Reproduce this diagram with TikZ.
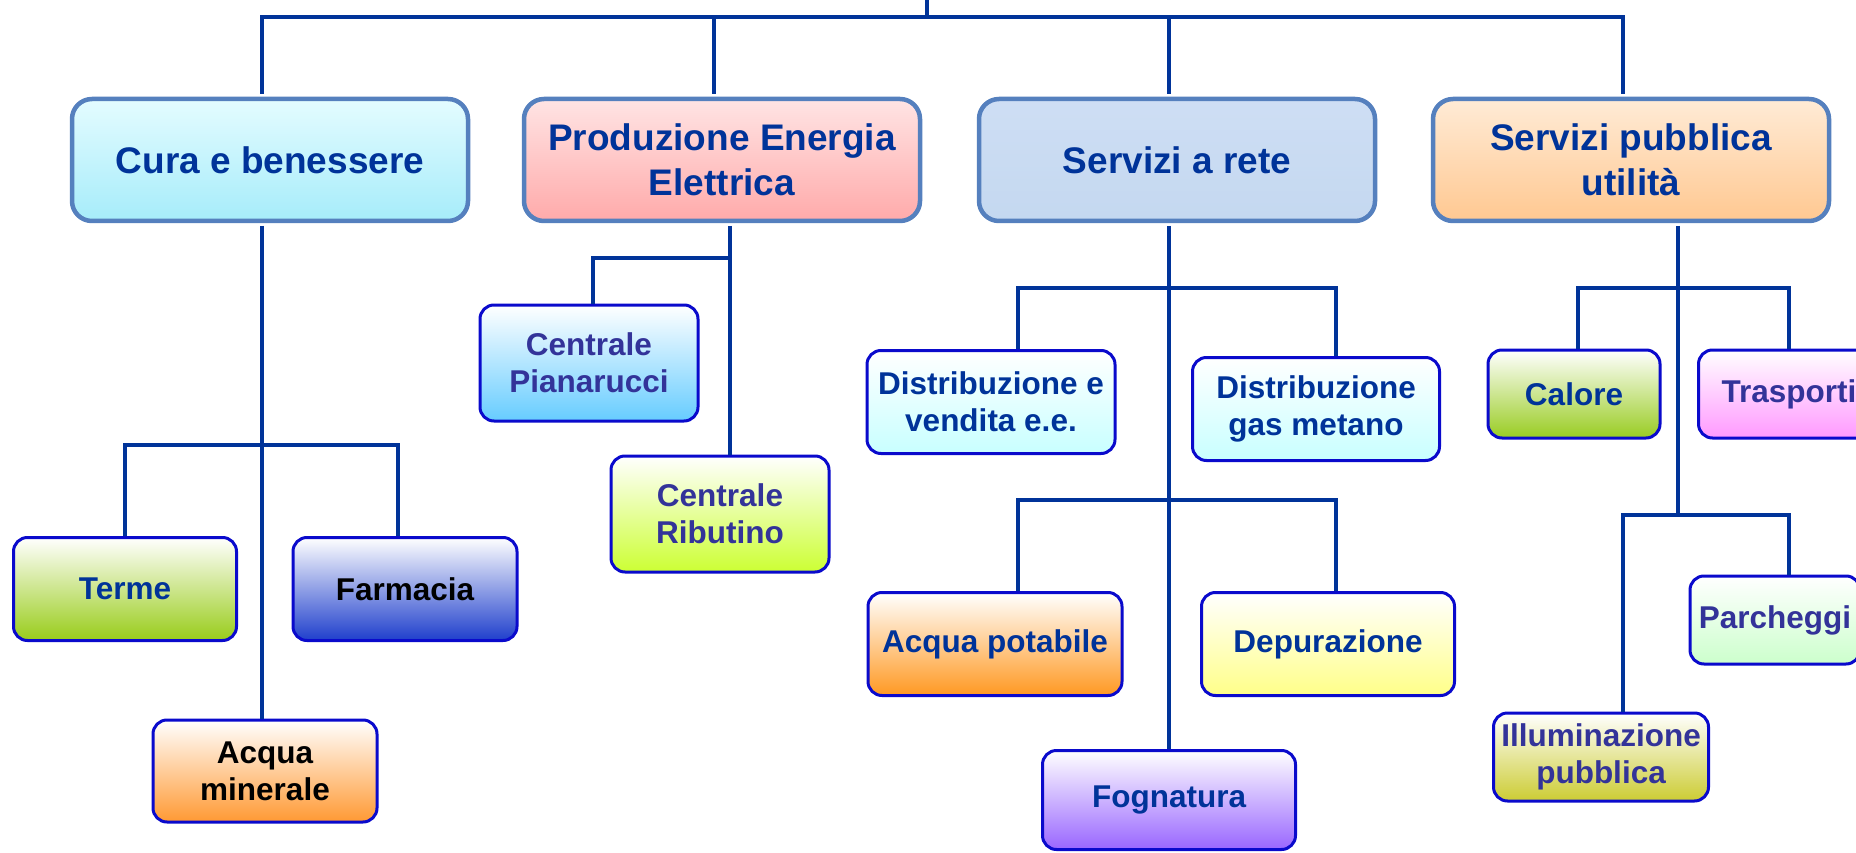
\documentclass[tikz,border=0pt]{standalone}
\usepackage{fontspec}
\setmainfont{Liberation Sans}
\usepackage{xcolor}
\usepackage{tikz}
\usetikzlibrary{positioning}
\definecolor{linkblue}{RGB}{0,51,153}
\definecolor{framesteel}{RGB}{85,128,190}
\definecolor{framesub}{RGB}{10,10,204}
\definecolor{textblue}{RGB}{0,51,153}
\definecolor{textviolet}{RGB}{51,51,153}
\definecolor{curatop}{RGB}{228,252,255}
\definecolor{curabot}{RGB}{166,236,250}
\definecolor{energiatop}{RGB}{255,228,228}
\definecolor{energiabot}{RGB}{255,170,170}
\definecolor{retetop}{RGB}{206,222,244}
\definecolor{retebot}{RGB}{196,216,240}
\definecolor{utiltop}{RGB}{255,235,214}
\definecolor{utilbot}{RGB}{255,200,145}
\definecolor{termegreen}{RGB}{153,204,26}
\definecolor{farmablue}{RGB}{31,63,204}
\definecolor{mineralorange}{RGB}{255,153,51}
\definecolor{pianablue}{RGB}{102,204,255}
\definecolor{ribulime}{RGB}{204,255,51}
\definecolor{venditacyan}{RGB}{200,255,255}
\definecolor{potabileorange}{RGB}{255,153,34}
\definecolor{depurayellow}{RGB}{255,255,136}
\definecolor{fognaviolet}{RGB}{153,102,255}
\definecolor{calgreen}{RGB}{153,204,34}
\definecolor{traspink}{RGB}{255,153,255}
\definecolor{parcgreen}{RGB}{204,255,204}
\definecolor{illumolive}{RGB}{204,204,51}
\tikzstyle{mainbox} = [draw=framesteel, line width=4.5pt, rounded corners=20pt,
  minimum width=396pt, minimum height=122pt, align=center, outer sep=5pt,
  text=textblue, font={\bfseries\fontsize{37pt}{45pt}\selectfont}]
\tikzstyle{subbox} = [draw=framesub, line width=3pt, rounded corners=14pt,
  minimum width=250pt, minimum height=103pt, align=center, inner sep=2pt,
  text=textblue, font={\bfseries\fontsize{31.5pt}{37pt}\selectfont}]
\tikzstyle{link} = [draw=linkblue, line width=4.5pt]
\tikzset{grad/.style={top color=white, bottom color=#1}}

\begin{document}
\begin{tikzpicture}[x=1pt, y=-1pt]
\clip (0, 0) rectangle (1856, 853);
\fill[white] (0, 0) rectangle (1856, 853);

%% main level
\node[mainbox, top color=curatop, bottom color=curabot] (cura) at (270, 160) {Cura e benessere};
\node[mainbox, top color=energiatop, bottom color=energiabot] (energia) at (722, 160) {Produzione Energia\\Elettrica};
\node[mainbox, top color=retetop, bottom color=retebot] (rete) at (1177, 160) {Servizi a rete};
\node[mainbox, top color=utiltop, bottom color=utilbot] (utilita) at (1631, 160) {Servizi pubblica\\utilità};

\coordinate (root) at (927, 0);
\coordinate (topbar) at (927, 17);
\draw[link] (root) -- (topbar);
\draw[link] ([xshift=-8pt]cura.north) |- (topbar) -| ([xshift=-8pt]utilita.north);
\draw[link] ([xshift=-8pt]energia.north) |- (topbar);
\draw[link] ([xshift=-8pt]rete.north) |- (topbar);

%% Cura e benessere
\node[subbox, grad=termegreen, minimum width=223pt] (terme) at (125, 589) {Terme};
\node[subbox, grad=farmablue, text=black, minimum width=224pt] (farmacia) at (405, 589) {Farmacia};
\node[subbox, grad=mineralorange, text=black, minimum width=224pt, minimum height=102pt] (acquamin) at (265, 771) {Acqua\\minerale};
\coordinate (curaj) at (262, 445);
\draw[link] (curaj |- cura.south) -- (curaj |- acquamin.north);
\draw[link] (terme.north) |- (curaj) -| ([xshift=-7pt]farmacia.north);

%% Produzione Energia Elettrica
\node[subbox, grad=pianablue, text=textviolet, minimum width=218pt, minimum height=116pt] (piana) at (589, 363) {Centrale\\Pianarucci};
\node[subbox, grad=ribulime, text=textviolet, minimum width=218pt, minimum height=116pt] (ribu) at (720, 514) {Centrale\\Ributino};
\coordinate (energiaj) at (730, 258);
\draw[link] (energiaj |- energia.south) -- (energiaj |- ribu.north);
\draw[link] ([xshift=4pt]piana.north) |- (energiaj);

%% Servizi a rete
\node[subbox, grad=venditacyan, minimum width=248pt] (vendita) at (991, 402) {Distribuzione e\\vendita e.e.};
\node[subbox, grad=venditacyan, minimum width=247pt] (gas) at (1316, 409) {Distribuzione\\gas metano};
\node[subbox, grad=potabileorange, minimum width=254pt] (potabile) at (995, 644) {Acqua potabile};
\node[subbox, grad=depurayellow, minimum width=253pt] (depura) at (1328, 644) {Depurazione};
\node[subbox, grad=fognaviolet, minimum width=253pt, minimum height=99pt] (fogna) at (1169, 800) {Fognatura};
\coordinate (retej) at (1169, 288);
\coordinate (retel) at (1018, 288);
\coordinate (reter) at (1336, 288);
\coordinate (retebl) at (1018, 500);
\coordinate (retebr) at (1336, 500);
\draw[link] (retej |- rete.south) -- (fogna.north);
\draw[link] (retel |- vendita.north) -- (retel) -- (reter) -- (reter |- gas.north);
\draw[link] (retebl |- potabile.north) -- (retebl) -- (retebr) -- (retebr |- depura.north);

%% Servizi pubblica utilita
\node[subbox, grad=calgreen, minimum width=172pt, minimum height=88pt] (calore) at (1574, 394) {Calore};
\node[subbox, grad=traspink, text=textviolet, minimum width=181pt, minimum height=88pt] (trasporti) at (1789, 394) {Trasporti};
\node[subbox, grad=parcgreen, text=textviolet, minimum width=170pt, minimum height=88pt] (parcheggi) at (1775, 620) {Parcheggi};
\node[subbox, grad=illumolive, text=textviolet, minimum width=215pt, minimum height=88pt] (illum) at (1601, 757) {Illuminazione\\pubblica};
\coordinate (utilj) at (1678, 288);
\coordinate (utilbl) at (1623, 515);
\coordinate (utilbr) at (1789, 515);
\draw[link] (utilj |- utilita.south) -- (utilj |- utilbl);
\draw[link] ([xshift=4pt]calore.north) |- (utilj) -| (trasporti.north);
\draw[link] (utilbl |- illum.north) -- (utilbl) -- (utilbr) -- (utilbr |- parcheggi.north);
\end{tikzpicture}
\end{document}
